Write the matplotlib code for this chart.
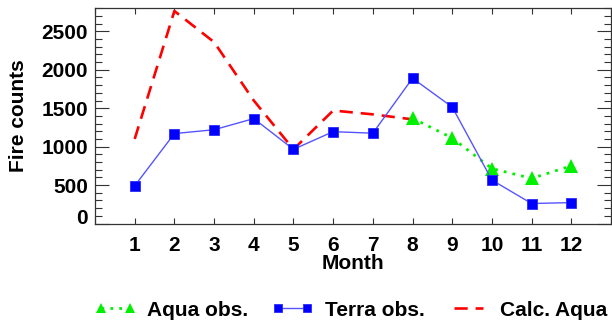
import matplotlib
matplotlib.use("Agg")
import matplotlib.pyplot as plt
from matplotlib.ticker import MultipleLocator, FixedLocator
from matplotlib.transforms import ScaledTranslation

plt.rcParams['font.family'] = ['Liberation Sans', 'DejaVu Sans']
plt.rcParams['font.weight'] = 'bold'

# Data
months = [1, 2, 3, 4, 5, 6, 7, 8, 9, 10, 11, 12]
terra_obs = [490, 1170, 1220, 1365, 965, 1195, 1175, 1890, 1515, 565, 260, 272]
aqua_months = [8, 9, 10, 11, 12]
aqua_obs = [1370, 1112, 715, 587, 750]
calc_months = [1, 2, 3, 4, 5, 6, 7, 8]
calc_aqua = [1100, 2765, 2360, 1600, 965, 1470, 1420, 1355]
month_labels = ['1', '2', '3', '4', '5', '6', '7', '8', '9', '10', '11', '12']

fig = plt.figure(figsize=(6.12, 3.25), dpi=100)
ax = fig.add_axes([95/612, 1-223.5/325, (611-95)/612, (223.5-8.3)/325])

la, = ax.plot(aqua_months, aqua_obs, color='#00f000', linestyle=(0, (1, 2.2)), lw=2.0,
              marker='^', markersize=9.5, markeredgewidth=0, label='Aqua obs.', zorder=3)
lt, = ax.plot(months, terra_obs, color='#5555ff', lw=1.0, marker='s', markersize=7.5,
              markerfacecolor='#0000ff', markeredgecolor='#2a2aff', markeredgewidth=0.6,
              label='Terra obs.', zorder=4)
lc, = ax.plot(calc_months, calc_aqua, color='#ff0000', linestyle=(0, (5, 3)), lw=1.9,
              label='Calc. Aqua', zorder=2)

ax.set_xlim(0, 13)
ax.set_ylim(0, 2800)

ax.xaxis.set_major_locator(FixedLocator(list(range(0, 14))))
ax.set_xticklabels([''] + month_labels + [''])
ax.yaxis.set_major_locator(MultipleLocator(500))
ax.yaxis.set_minor_locator(MultipleLocator(100))

ax.tick_params(axis='x', which='major', direction='in', length=4, width=0.8,
               top=True, bottom=True, labelsize=15, pad=9, color='#333333')
ax.tick_params(axis='y', which='major', direction='in', length=10, width=0.8,
               left=True, right=True, labelsize=15, pad=5, color='#333333')
ax.tick_params(axis='y', which='minor', direction='in', length=5, width=0.8,
               left=True, right=True, color='#333333')
for lab in ax.get_xticklabels() + ax.get_yticklabels():
    lab.set_fontweight('bold')

# raise the "0" label slightly, as in the original
fig.canvas.draw()
for lab in ax.get_yticklabels():
    if lab.get_text() == '0':
        lab.set_transform(lab.get_transform() + ScaledTranslation(0, 5/72, fig.dpi_scale_trans))

for sp in ax.spines.values():
    sp.set_linewidth(0.9)
    sp.set_color('#333333')

ax.set_xlabel('Month', fontsize=15, fontweight='bold', va='center')
ax.xaxis.set_label_coords(0.5, -0.188)
ax.set_ylabel('Fire counts', fontsize=15, fontweight='bold', va='center')
ax.yaxis.set_label_coords(-0.148, 0.5)

fig.legend(handles=[la, lt, lc], loc='center', bbox_to_anchor=(351/612, 1-310/325),
           ncol=3, frameon=False, fontsize=15, handlelength=2.0, handletextpad=0.55,
           columnspacing=1.1, numpoints=2, markerscale=0.8, borderaxespad=0,
           borderpad=0, prop={'weight': 'bold', 'size': 15})

fig.savefig('out.png', dpi=100)
